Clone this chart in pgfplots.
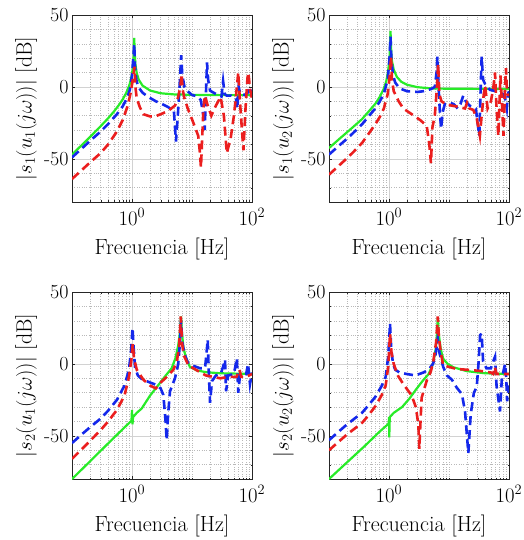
\documentclass[border=0pt]{standalone}
\usepackage{pgfplots}
\pgfplotsset{compat=1.18}
\definecolor{mgreen}{RGB}{40,235,40}
\definecolor{mblue}{RGB}{20,40,235}
\definecolor{mred}{RGB}{235,30,30}
\pgfplotsset{
  bodeax/.style={
    scale only axis, width=180pt, height=187pt,
    xmin=0.1, xmax=100, ymin=-80, ymax=50,
    xtick={1,100}, xticklabels={$10^0$,$10^2$},
    minor xtick={0.2,0.3,0.4,0.5,0.6,0.7,0.8,0.9,2,3,4,5,6,7,8,9,10,20,30,40,50,60,70,80,90},
    ytick={-50,0,50}, yticklabels={-50,0,50},
    minor ytick={-70,-60,-40,-30,-20,-10,10,20,30,40},
    grid=both,
    major grid style={gray!35, line width=0.6pt},
    minor grid style={gray!55, dotted, line width=0.5pt},
    axis line style={black!85, line width=0.7pt},
    tick align=inside, major tick length=3pt, minor tick length=1.5pt,
    tick style={black!85},
    tick label style={font=\fontsize{20}{20}\selectfont},
    xticklabel style={yshift=-3pt},
    label style={font=\fontsize{22}{22}\selectfont},
    xlabel style={yshift=-6pt},
    xlabel={Frecuencia [Hz]},
    anchor=north west,
  },
  gcurve/.style={mgreen, line width=2.2pt, solid},
  bcurve/.style={mblue, line width=2.6pt, dash pattern=on 9pt off 5pt},
  rcurve/.style={mred, line width=2.6pt, dash pattern=on 9pt off 5pt},
}
\begin{document}
\begin{tikzpicture}
\path[use as bounding box] (0pt,0pt) rectangle (523pt,-540pt);
% Panel 1
\begin{semilogxaxis}[bodeax, at={(72pt,-15pt)}, ylabel={$|s_1(u_1(j\omega))|$ [dB]}]
\addplot[gcurve] coordinates {(0.1,-47) (0.15,-39.9) (0.2,-34.8) (0.3,-27.3) (0.4,-21.8) (0.5,-17.1) (0.6,-12.8) (0.7,-8.7) (0.8,-4.2) (0.9,1) (0.95,4.4) (1.0,8.9) (1.05,16.6) (1.07,23) (1.09,34) (1.11,23.3) (1.14,15.7) (1.2,9.5) (1.3,4.9) (1.5,0.9) (2,-2.5) (3,-4.4) (5,-5.2) (10,-5.5) (30,-5.7) (100,-5.7)};
\addplot[bcurve] coordinates {(0.1,-49) (0.15,-42.3) (0.2,-37.5) (0.3,-31) (0.4,-25.8) (0.56,-19) (0.7,-13.5) (0.82,-8) (0.92,-2) (1.0,8) (1.05,20) (1.09,30) (1.12,15) (1.18,5) (1.27,0) (1.5,-4) (1.87,-7) (2.5,-10) (3.2,-12) (4.0,-14) (5.0,-17) (5.4,-38) (5.8,-20) (6.3,5) (6.6,22) (6.9,8) (7.5,0) (8.5,-3) (9.9,-5.5) (12,-6.5) (14,-9) (15.5,-20) (16.3,-30) (16.9,-10) (17.8,17) (18.6,5) (20,-2.6) (24,-4.5) (29,-6) (31,-6.6) (33,4) (35,-5) (38,-6) (45,-6) (54,-8) (57,-15) (60,0) (64,-5) (75,-5.6) (85,-4) (92,0) (96,-4) (100,-5)};
\addplot[rcurve] coordinates {(0.1,-64) (0.15,-57.3) (0.2,-52.5) (0.3,-46) (0.4,-40) (0.56,-31) (0.7,-23) (0.85,-13) (0.95,-4) (1.03,5) (1.1,14) (1.14,0) (1.2,-8) (1.35,-14) (1.55,-19) (2,-20.5) (2.4,-20.6) (3,-19) (4,-16.7) (5.2,-13) (5.8,-8) (6.4,0) (6.7,9) (7.0,-2) (7.5,-8) (8.5,-15) (9.9,-22) (11,-27) (12.7,-34) (13.5,-45) (14.1,-56) (14.8,-35) (15.5,-15) (16.4,-6) (18,-12) (21,-20) (25,-13) (30,-7) (34,-20) (38,-46) (44,-36) (50,-20) (56,0) (59,10) (63,-10) (68,-30) (72,-44) (78,-15) (84,6) (87,10) (93,-2) (100,-8)};
\end{semilogxaxis}
% Panel 2
\begin{semilogxaxis}[bodeax, at={(329pt,-15pt)}, ylabel={$|s_1(u_2(j\omega))|$ [dB]}]
\addplot[gcurve] coordinates {(0.1,-42.5) (0.15,-36) (0.2,-31.5) (0.25,-28) (0.355,-22.4) (0.45,-17.5) (0.59,-11.8) (0.7,-7) (0.82,-1.2) (0.9,4) (0.95,9) (1.0,16) (1.03,23) (1.06,39) (1.09,24) (1.12,18) (1.2,12) (1.35,7) (1.6,3.6) (2,1.5) (3,-0.2) (5,-1) (10,-1.3) (100,-1.4)};
\addplot[bcurve] coordinates {(0.1,-47) (0.15,-40.5) (0.2,-36) (0.25,-32.2) (0.355,-26) (0.45,-20.8) (0.59,-15) (0.7,-10.2) (0.82,-4.7) (0.95,5) (1.02,20) (1.06,35) (1.1,18) (1.17,8) (1.27,3) (1.5,-1) (2,-3) (3,-3.5) (3.7,-3) (5,-1.5) (5.8,0) (6.2,10) (6.4,21) (6.7,0) (7.1,-20) (7.4,-29) (7.8,-18) (8.5,-12) (10.4,-11) (12,-12) (14,-15) (15.5,-12) (17.3,-6) (19,-10) (22,-13) (28,-15) (30,-25) (32,-34) (33.5,-5) (35,21) (37,5) (40,2) (48,-2) (60,-3) (70,-4) (80,-5) (86,-8) (92,-15) (96,-5) (100,-3)};
\addplot[rcurve] coordinates {(0.1,-61) (0.15,-54.3) (0.2,-49.5) (0.25,-45.6) (0.355,-39) (0.45,-33) (0.59,-26) (0.7,-21) (0.82,-15) (0.95,-5) (1.03,8) (1.08,21) (1.12,5) (1.2,-3) (1.45,-10) (1.73,-15) (2.5,-19.5) (3.3,-23) (4.25,-27) (4.7,-40) (5.0,-53) (5.3,-28) (5.8,-20) (6.3,0) (6.6,16) (6.9,-5) (7.5,-10) (9.2,-12.4) (13.4,-13.6) (18.5,-15) (20,-11) (22,-15) (25.4,-16) (29,-22) (32.7,-34) (35,-20) (38,-5) (40,1) (44,-15) (50,-10) (55,0) (58.5,10) (62,-15) (66.4,-34) (72,8) (76,-10) (81,-34) (86,0) (89,13) (93,-5) (100,-6)};
\end{semilogxaxis}
% Panel 3
\begin{semilogxaxis}[bodeax, at={(72pt,-292pt)}, ylabel={$|s_2(u_1(j\omega))|$ [dB]}]
\addplot[gcurve] coordinates {(0.1,-80) (0.2,-67.7) (0.3,-60.4) (0.5,-51.3) (0.76,-43.9) (0.9,-41) (0.98,-39.5) (1.0,-32) (1.02,-42) (1.04,-37) (1.2,-34) (1.45,-31) (2,-22) (2.75,-14.7) (3.5,-9) (4.58,-3) (5.3,4) (5.9,13) (6.3,22) (6.56,33) (6.8,22) (7.2,11) (8,4) (9.2,-2) (12,-4.5) (17.5,-5.8) (30,-6.5) (100,-7)};
\addplot[bcurve] coordinates {(0.1,-55) (0.15,-48.5) (0.2,-44) (0.3,-38) (0.4,-32.5) (0.56,-25) (0.75,-15) (0.89,-4) (0.97,10) (1.02,25) (1.07,10) (1.12,-2) (1.25,-8) (1.5,-11) (1.76,-12) (2.58,-14.7) (3.0,-17) (3.33,-21.6) (3.6,-38) (3.79,-53) (4.0,-35) (4.3,-19) (5.2,-10) (5.9,0) (6.3,15) (6.56,30) (6.9,15) (7.5,7) (8.5,1) (10,-1) (13.6,-3) (16.5,-3) (17.5,8) (18.3,17) (19,-5) (20,-27) (21.5,-12) (25,-8) (30,-7) (33,-2) (35.5,3) (37,-19) (40,-8) (50,-7) (56,4) (59,-20) (63,-8) (80,-7) (86,0) (92.6,-14) (100,-6)};
\addplot[rcurve] coordinates {(0.1,-66) (0.15,-58.7) (0.2,-53.5) (0.3,-46) (0.4,-40) (0.56,-32) (0.75,-22) (0.89,-9) (0.97,2) (1.03,14) (1.08,4) (1.2,-4) (1.55,-11) (2,-15) (2.5,-17) (3,-13) (3.8,-9) (4.9,-4) (5.6,2) (6.1,12) (6.5,33) (6.8,15) (7.3,6) (8.7,-1) (12.7,-5) (17,-8) (29.6,-10) (40,-9) (55,-9) (62,-4) (66,-9) (80,-9) (100,-7)};
\end{semilogxaxis}
% Panel 4
\begin{semilogxaxis}[bodeax, at={(329pt,-292pt)}, ylabel={$|s_2(u_2(j\omega))|$ [dB]}]
\addplot[gcurve] coordinates {(0.1,-80) (0.2,-68.4) (0.4,-56.8) (0.7,-47) (0.99,-41.5) (1.0,-37) (1.01,-51) (1.03,-37) (1.2,-34) (1.65,-30) (2.2,-24) (2.75,-18.4) (3.6,-12) (4.58,-7) (5.4,0) (6.0,10) (6.3,20) (6.5,32) (6.8,20) (7.3,10) (8.03,3.5) (9.5,0) (11.8,-2.3) (19.7,-5) (40,-6.5) (100,-7)};
\addplot[bcurve] coordinates {(0.1,-53) (0.15,-46.5) (0.2,-42) (0.355,-34) (0.45,-29) (0.59,-23) (0.75,-15.5) (0.88,-9) (0.97,5) (1.04,28) (1.09,10) (1.17,0) (1.27,-4) (1.5,-6) (1.97,-7) (2.75,-8) (3.73,-6) (4.58,-4) (5.4,0) (5.9,5) (6.5,18) (6.9,8) (8,-2) (9.2,-8) (11.2,-11) (13.4,-16.4) (16.4,-21) (18.5,-33) (21,-62) (23,-35) (26,-20) (29,-16) (31,0) (33,20) (35,21) (37,2) (42,-3) (50,-3) (56,3) (58.5,5) (62,-15) (70.8,-33) (76,-10) (86,0) (90,-10) (93,-26) (100,-15)};
\addplot[rcurve] coordinates {(0.1,-60) (0.15,-53.5) (0.2,-49) (0.355,-41) (0.45,-36) (0.59,-29.5) (0.75,-22) (0.88,-15) (0.97,-2) (1.04,21) (1.1,8) (1.2,0) (1.4,-8) (1.73,-14) (2.39,-22) (2.8,-30) (3.08,-42) (3.2,-59) (3.35,-40) (3.5,-23.5) (4.25,-11.7) (5.0,-5) (5.5,2.3) (6.1,15) (6.5,33) (6.8,18) (7.3,8) (8,-1) (13.4,-3.5) (22.4,-4.2) (35,-5) (50,-6) (54.6,-7) (58,-2) (62,-7) (80,-7) (100,-7)};
\end{semilogxaxis}
\end{tikzpicture}
\end{document}
